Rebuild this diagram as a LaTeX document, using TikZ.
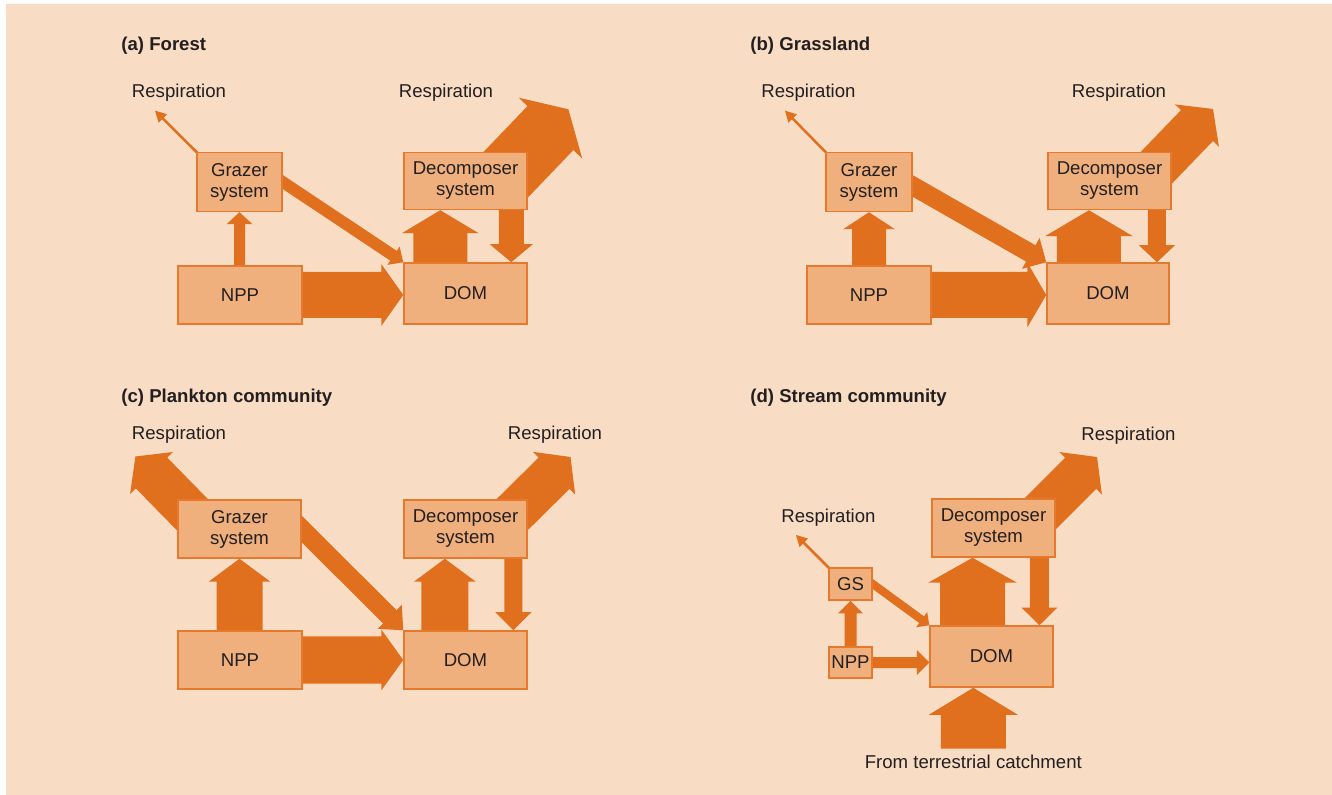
\documentclass[tikz,border=0pt]{standalone}
\usepackage{fontspec}
\setmainfont{Liberation Sans}
\usetikzlibrary{calc,backgrounds}

\definecolor{bgpeach}{HTML}{F9DCC4}
\definecolor{boxfill}{HTML}{F0B07E}
\definecolor{boxline}{HTML}{E57A2E}
\definecolor{arrc}{HTML}{E0701E}
\definecolor{txt}{HTML}{231F20}

\begin{document}
\begin{tikzpicture}[
  x=0.5pt,y=-0.5pt,
  font=\fontsize{9.3pt}{10.5pt}\selectfont,
  text=txt,
  b/.style={draw=boxline,line width=0.75pt,fill=boxfill,align=center,inner sep=0pt},
  ttl/.style={anchor=west,inner sep=0pt,yshift=-1pt,font=\fontsize{9.3pt}{10.5pt}\selectfont\bfseries},
  lbl/.style={inner sep=0pt,yshift=-1pt},
  fat/.style n args={4}{fill=arrc,to path={
    let \p1=(\tikztostart),\p2=(\tikztotarget),
        \n1={atan2(\y2-\y1,\x2-\x1)},\n2={veclen(\x2-\x1,\y2-\y1)} in
    ($(\p1)+(\n1:-#4*0.5pt)+(\n1+90:#1*0.25pt)$)
    -- ($(\p1)+(\n1:\n2-#3*0.5pt)+(\n1+90:#1*0.25pt)$)
    -- ($(\p1)+(\n1:\n2-#3*0.5pt)+(\n1+90:#2*0.25pt)$)
    -- (\p2)
    -- ($(\p1)+(\n1:\n2-#3*0.5pt)+(\n1-90:#2*0.25pt)$)
    -- ($(\p1)+(\n1:\n2-#3*0.5pt)+(\n1-90:#1*0.25pt)$)
    -- ($(\p1)+(\n1:-#4*0.5pt)+(\n1-90:#1*0.25pt)$) -- cycle}}
]
\useasboundingbox (0,0) rectangle (1332,795);

% (a) Forest
\node[ttl] (tA) at (121,44) {(a) Forest};
\node[b,minimum width=42.5pt,minimum height=29.5pt] (gzA) at (239.5,182) {Grazer\\system};
\node[b,minimum width=61.5pt,minimum height=28.5pt] (dcA) at (465.5,181) {Decomposer\\system};
\node[b,minimum width=62pt,minimum height=29pt] (nppA) at (240,295) {NPP};
\node[b,minimum width=61.5pt,minimum height=30.5pt] (domA) at (465.5,293.5) {DOM};
\node[lbl] (lgA) at (179,91) {Respiration};
\node[lbl] (ldA) at (446,91) {Respiration};
\coordinate (rgA) at (155,110.7);
\coordinate (rdA) at (568.4,109.3);

% (b) Grassland
\node[ttl] (tB) at (750,44) {(b) Grassland};
\node[b,minimum width=43pt,minimum height=29.5pt] (gzB) at (869,182) {Grazer\\system};
\node[b,minimum width=61.5pt,minimum height=28.5pt] (dcB) at (1109.5,181) {Decomposer\\system};
\node[b,minimum width=62pt,minimum height=29pt] (nppB) at (869,295) {NPP};
\node[b,minimum width=61pt,minimum height=30.5pt] (domB) at (1108,293.5) {DOM};
\node[lbl] (lgB) at (808.5,91) {Respiration};
\node[lbl] (ldB) at (1119,91) {Respiration};
\coordinate (rgB) at (785,110.7);
\coordinate (rdB) at (1213,109);

% (c) Plankton community
\node[ttl] (tC) at (121,396) {(c) Plankton community};
\node[b,minimum width=61.5pt,minimum height=29pt] (gzC) at (239.5,529) {Grazer\\system};
\node[b,minimum width=61.5pt,minimum height=29pt] (dcC) at (465.5,529) {Decomposer\\system};
\node[b,minimum width=62pt,minimum height=29pt] (nppC) at (240,660) {NPP};
\node[b,minimum width=61.5pt,minimum height=29pt] (domC) at (465.5,660) {DOM};
\node[lbl] (lgC) at (179,433) {Respiration};
\node[lbl] (ldC) at (555,433) {Respiration};
\coordinate (rgC) at (135.4,456.5);
\coordinate (rdC) at (570.5,457);

% (d) Stream community
\node[ttl] (tD) at (750,396) {(d) Stream community};
\node[b,minimum width=21.5pt,minimum height=16pt] (gsD) at (850.5,584) {GS};
\node[b,minimum width=21.5pt,minimum height=15.5pt] (nppD) at (850.5,662.5) {NPP};
\node[b,minimum width=61.5pt,minimum height=29pt] (dcD) at (993.5,528) {Decomposer\\system};
\node[b,minimum width=61.5pt,minimum height=30.5pt] (domD) at (991.5,656.5) {DOM};
\node[lbl] (ldD) at (1128.5,434) {Respiration};
\node[lbl] (lgD) at (828.5,516) {Respiration};
\node[inner sep=3pt,anchor=north] (terr) at (973.3,748.5) {From terrestrial catchment};
\coordinate (rgD) at (796,535);
\coordinate (rdD) at (1097,457);

\begin{scope}[on background layer]
\fill[white] (-10,-10) rectangle (1345,805);
\fill[bgpeach] (6,4) rectangle (1345,805);
% (a)
\path[fat={11}{26}{12}{10}] (gzA.south |- nppA.north) to (gzA.south);
\path[fat={46}{62}{22}{10}] (nppA.east) to (nppA.east -| domA.west);
\path[fat={54}{77}{23}{10}] ([xshift=18.5pt]domA.north west) to ([xshift=18.5pt]dcA.south west);
\path[fat={25}{43}{18}{10}] ([xshift=-8.25pt]dcA.south east) to ([xshift=-8.25pt]domA.north east);
\path[fat={11.7}{22}{11.4}{10}] (gzA.east) to (domA.north west);
\path[fat={2.5}{12}{11}{3}] (gzA.north west) to (rgA);
\path[fat={63.6}{88}{26}{40}] (dcA.north east) to (rdA);
% (b)
\path[fat={34}{52}{17}{10}] (gzB.south |- nppB.north) to (gzB.south);
\path[fat={46}{65}{19}{10}] (nppB.east) to (nppB.east -| domB.west);
\path[fat={64}{88}{26}{10}] ([xshift=21.35pt]domB.north west) to ([xshift=20.85pt]dcB.south west);
\path[fat={18}{36}{17}{10}] ([xshift=-7.4pt]dcB.south east) to ([xshift=-6.4pt]domB.north east);
\path[fat={18.8}{35.5}{17.6}{10}] ([yshift=-2pt]gzB.east) to (domB.north west);
\path[fat={2.5}{12}{11}{3}] (gzB.north west) to (rgB);
\path[fat={44.5}{61}{23}{30}] (dcB.north east) to (rdB);
% (c)
\path[fat={46}{62}{23}{10}] (gzC.south |- nppC.north) to (gzC.south);
\path[fat={47}{61}{22}{10}] (nppC.east) to (nppC.east -| domC.west);
\path[fat={47}{62}{23}{10}] ([xshift=20.8pt]domC.north west) to ([xshift=20.8pt]dcC.south west);
\path[fat={18}{36}{18}{10}] ([xshift=-7.25pt]dcC.south east) to ([xshift=-7.25pt]domC.north east);
\path[fat={18.9}{34}{19}{14}] (gzC.east) to (domC.north west);
\path[fat={44}{60}{23}{30}] (gzC.north west) to (rgC);
\path[fat={44}{60}{23}{30}] (dcC.north east) to (rdC);
% (d)
\path[fat={12}{25}{12.7}{6}] (gsD.south |- nppD.north) to (gsD.south);
\path[fat={11}{25}{12.3}{6}] (nppD.east) to (nppD.east -| domD.west);
\path[fat={65}{89}{25}{10}] ([xshift=21.65pt]domD.north west) to ([xshift=20.65pt]dcD.south west);
\path[fat={19}{36}{17.7}{10}] ([xshift=-8.15pt]dcD.south east) to ([xshift=-7.15pt]domD.north east);
\path[fat={8.2}{19}{9.4}{6}] (gsD.east) to (domD.north west);
\path[fat={2.5}{12}{11}{3}] (gsD.north west) to (rgD);
\path[fat={44}{60}{23}{30}] (dcD.north east) to (rdD);
\path[fat={65}{89}{27}{0}] (terr.north) to (terr.north |- domD.south);
\end{scope}
\end{tikzpicture}
\end{document}
